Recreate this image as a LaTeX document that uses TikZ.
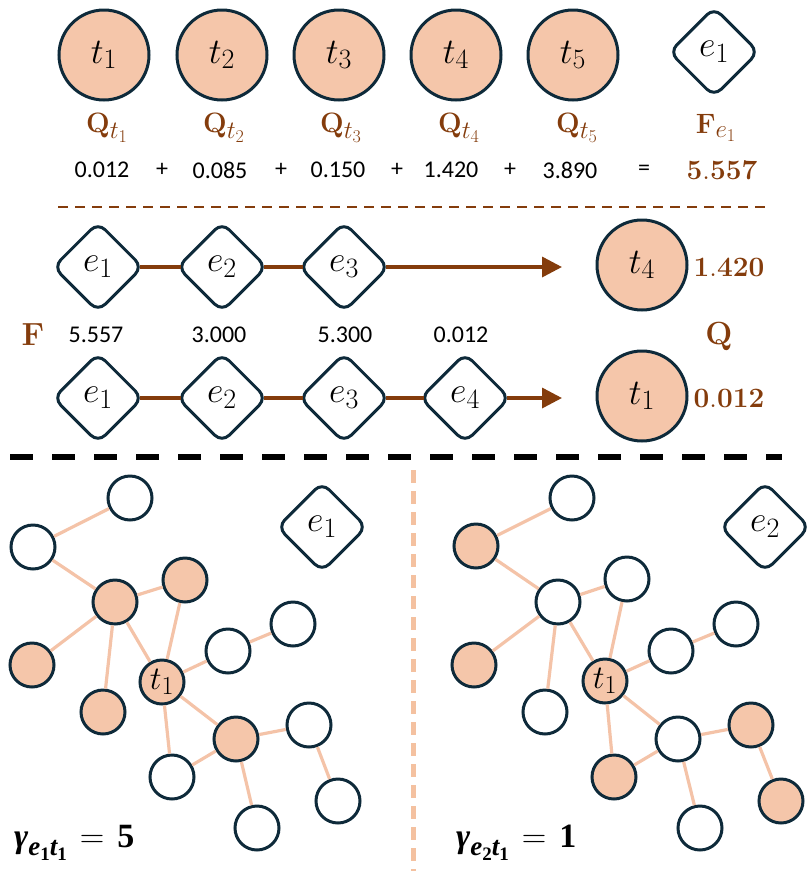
\documentclass[tikz,border=0pt]{standalone}
\usepackage{fix-cm}
\usepackage[no-math]{fontspec}
\setmainfont{Carlito}
\newfontfamily\gserif{Liberation Serif}
\usetikzlibrary{shapes.geometric,arrows.meta}
\DeclareMathSizes{36}{36}{28}{20}
\DeclareMathSizes{33}{33}{26}{18}
\DeclareMathSizes{28}{28}{25}{18}
\DeclareMathSizes{32}{32}{24}{17}
\definecolor{navy}{HTML}{0E2A3A}
\definecolor{salmon}{HTML}{F5C6AA}
\definecolor{edgec}{HTML}{F4C3A8}
\definecolor{brownc}{HTML}{843C0C}
\definecolor{vdash}{HTML}{F4C1A0}
\newcommand\bigfs{\fontsize{36}{38}\selectfont}
\newcommand\smfs{\fontsize{33}{35}\selectfont}
\newcommand\numfs{\fontsize{24}{26}\selectfont}
\newcommand\labfs{\fontsize{28}{30}\selectfont}
\newcommand\biglabfs{\fontsize{32}{34}\selectfont}
\newcommand\gamlabel[2]{{\gserif\bfseries\itshape\fontsize{34}{36}\selectfont
  γ\raisebox{-8pt}{\fontsize{27}{27}\selectfont e\raisebox{-5pt}{\fontsize{19}{19}\selectfont\upshape #1}t\raisebox{-5pt}{\fontsize{19}{19}\selectfont\upshape 1}}\upshape\hspace{13pt}$\mathbf{=}$\hspace{13pt}#2}}
\begin{document}
\begin{tikzpicture}[x=1pt,y=-1pt,
  tbig/.style={circle,draw=navy,line width=3pt,fill=salmon,minimum size=90pt,inner sep=0pt,font=\bigfs},
  ebox/.style={diamond,draw=navy,line width=3pt,fill=white,minimum width=90pt,minimum height=90pt,inner sep=0pt,rounded corners=10pt,font=\bigfs},
  gwhite/.style={circle,draw=navy,line width=3pt,fill=white,minimum size=44pt,inner sep=0pt,font=\smfs},
  gfill/.style={gwhite,fill=salmon},
  gedge/.style={draw=edgec,line width=3.2pt},
  chain/.style={draw=brownc,line width=3.5pt,shorten <=-5pt,shorten >=-5pt},
  chainarr/.style={draw=brownc,line width=3.5pt,shorten <=-5pt,-{Triangle[length=20pt,width=20pt]}},
  num/.style={font=\numfs,text=black,inner sep=0pt},
  lab/.style={font=\labfs,text=brownc,inner sep=0pt},
  blab/.style={font=\labfs,text=brownc,inner sep=0pt},
  biglab/.style={font=\biglabfs,text=brownc,inner sep=0pt},
  gam/.style={text=black,inner sep=0pt,anchor=west}
]
\useasboundingbox (0,0) rectangle (809,871);

% ---------- top row ----------
\node[tbig] (t1) at (104,55) {$t_1$};
\node[tbig] (t2) at (222,55) {$t_2$};
\node[tbig] (t3) at (339,55) {$t_3$};
\node[tbig] (t4) at (456,55) {$t_4$};
\node[tbig] (t5) at (573,55) {$t_5$};
\node[ebox] (e1) at (714,52) {$e_1$};

\node[lab] (q1) at (107,128) {$\mathbf{Q}_{t_1}$};
\node[lab] (q2) at (224,128) {$\mathbf{Q}_{t_2}$};
\node[lab] (q3) at (341,128) {$\mathbf{Q}_{t_3}$};
\node[lab] (q4) at (459,128) {$\mathbf{Q}_{t_4}$};
\node[lab] (q5) at (577,128) {$\mathbf{Q}_{t_5}$};
\node[lab] (fe) at (716,128) {$\mathbf{F}_{e_1}$};

\node[num] (n1) at (102,170) {0.012};
\node[num] (p1) at (162,170) {+};
\node[num] (n2) at (220,170) {0.085};
\node[num] (p2) at (281,170) {+};
\node[num] (n3) at (338,170) {0.150};
\node[num] (p3) at (397,170) {+};
\node[num] (n4) at (451,170) {1.420};
\node[num] (p4) at (510,170) {+};
\node[num] (n5) at (570,170) {3.890};
\node[num] (eq) at (644,170) {=};
\node[blab] (sum) at (722,170) {$\mathbf{5.557}$};

% brown dashed separator
\coordinate (bd1) at (58,207);
\coordinate (bd2) at (766,207);
\draw[brownc,line width=2.8pt,dash pattern=on 10pt off 7pt] (bd1) -- (bd2);

% ---------- chains ----------
\node[ebox] (a1) at (98,267) {$e_1$};
\node[ebox] (a2) at (222,267) {$e_2$};
\node[ebox] (a3) at (344,267) {$e_3$};
\coordinate (aend) at (562,267);
\node[tbig] (at4) at (642,265) {$t_4$};
\node[blab] (v1) at (729,267) {$\mathbf{1.420}$};
\draw[chain] (a1) -- (a2);
\draw[chain] (a2) -- (a3);
\draw[chainarr] (a3) -- (aend);

\node[biglab] (Fl) at (33,335) {$\mathbf{F}$};
\node[num] (m1) at (96,335) {5.557};
\node[num] (m2) at (219,335) {3.000};
\node[num] (m3) at (345,335) {5.300};
\node[num] (m4) at (461,335) {0.012};
\node[biglab] (Ql) at (719,337) {$\mathbf{Q}$};

\node[ebox] (b1) at (98,398) {$e_1$};
\node[ebox] (b2) at (222,398) {$e_2$};
\node[ebox] (b3) at (344,398) {$e_3$};
\node[ebox] (b4) at (465,398) {$e_4$};
\coordinate (bend) at (562,398);
\node[tbig] (bt1) at (642,396) {$t_1$};
\node[blab] (v2) at (729,398) {$\mathbf{0.012}$};
\draw[chain] (b1) -- (b2);
\draw[chain] (b2) -- (b3);
\draw[chain] (b3) -- (b4);
\draw[chainarr] (b4) -- (bend);

% black dashed separator
\coordinate (kd1) at (10,457);
\coordinate (kd2) at (782,457);
\draw[black,line width=6pt,dash pattern=on 23pt off 19pt] (kd1) -- (kd2);

% vertical dashed separator
\coordinate (vd1) at (413,470);
\coordinate (vd2) at (413,871);
\draw[vdash,line width=5pt,dash pattern=on 13pt off 8pt] (vd1) -- (vd2);

% ---------- left graph ----------
\node[gwhite] (lA) at (130,498) {};
\node[gwhite] (lB) at (33,547) {};
\node[gfill]  (lC) at (115,602) {};
\node[gfill]  (lD) at (185,580) {};
\node[gfill]  (lE) at (32,665) {};
\node[gfill]  (lF) at (103,712) {};
\node[gfill]  (lT) at (162,682) {$t_1$};
\node[gwhite] (lG) at (228,651) {};
\node[gwhite] (lH) at (293,624) {};
\node[gfill]  (lI) at (236,739) {};
\node[gwhite] (lJ) at (172,777) {};
\node[gwhite] (lK) at (309,725) {};
\node[gwhite] (lL) at (338,801) {};
\node[gwhite] (lM) at (257,828) {};
\node[ebox] (le) at (322,527) {$e_1$};
\foreach \ea/\eb in {lA/lB,lB/lC,lC/lD,lC/lE,lC/lF,lC/lT,lD/lT,lT/lG,lG/lH,lT/lI,lT/lJ,lI/lJ,lI/lK,lK/lL,lI/lM}
  {\draw[gedge] (\ea) -- (\eb);}
\node[gam] (lg) at (14,843) {\gamlabel{1}{5}};

% ---------- right graph ----------
\node[gwhite] (rA) at (572,498) {};
\node[gfill]  (rB) at (476,546) {};
\node[gwhite] (rC) at (558,602) {};
\node[gwhite] (rD) at (627,579) {};
\node[gfill]  (rE) at (474,665) {};
\node[gwhite] (rF) at (545,712) {};
\node[gfill]  (rT) at (605,681) {$t_1$};
\node[gwhite] (rG) at (671,651) {};
\node[gwhite] (rH) at (736,624) {};
\node[gwhite] (rI) at (678,739) {};
\node[gfill]  (rJ) at (614,777) {};
\node[gfill]  (rK) at (751,725) {};
\node[gfill]  (rL) at (781,801) {};
\node[gwhite] (rM) at (700,828) {};
\node[ebox] (re) at (765,527) {$e_2$};
\foreach \ea/\eb in {rA/rB,rB/rC,rC/rD,rC/rE,rC/rF,rC/rT,rD/rT,rT/rG,rG/rH,rT/rI,rT/rJ,rI/rJ,rI/rK,rK/rL,rI/rM}
  {\draw[gedge] (\ea) -- (\eb);}
\node[gam] (rg) at (456,843) {\gamlabel{2}{1}};
\end{tikzpicture}
\end{document}
